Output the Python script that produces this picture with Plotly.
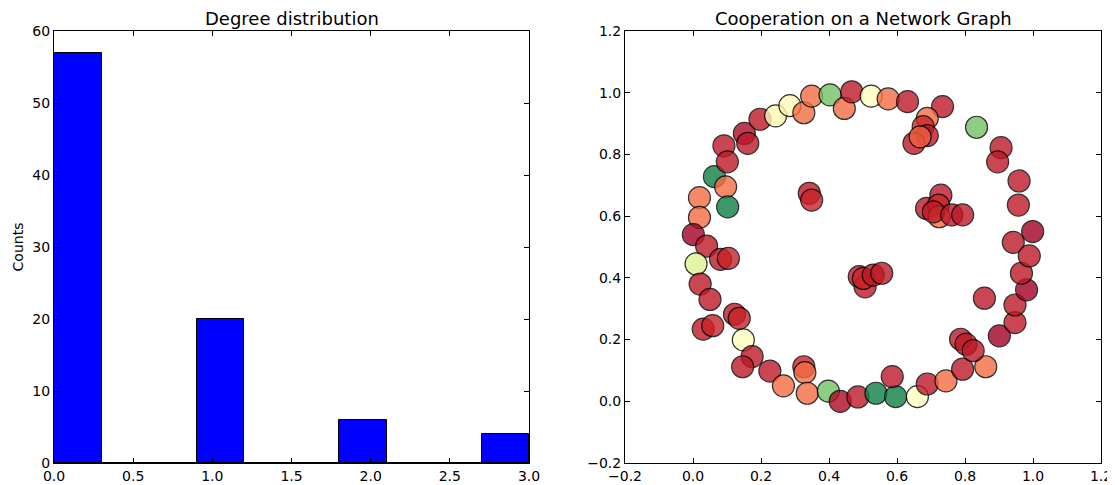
import plotly.graph_objects as go

# ---- Left: degree distribution histogram ----
bin_edges = [0.0, 0.3, 0.6, 0.9, 1.2, 1.5, 1.8, 2.1, 2.4, 2.7, 3.0]
bin_counts = [57, 0, 0, 20, 0, 0, 6, 0, 0, 4]

# ---- Right: network node positions and cooperation level (0 = defect, 1 = cooperate) ----
node_x = [0.019, 0.019, 0.063, 0.096, 0.102, 0.091, 0.101, 0.151, 0.161, 0.197,
          0.243, 0.285, 0.326, 0.349, 0.403, 0.445, 0.467, 0.342, 0.349, 0.001,
          0.524, 0.574, 0.631, 0.734, 0.689, 0.677, 0.689, 0.650, 0.668, 0.834,
          0.906, 0.896, 0.959, 0.957, 0.999, 0.942, 0.729, 0.687, 0.722, 0.724,
          0.707, 0.761, 0.793, 0.040, 0.009, 0.021, 0.050, 0.030, 0.058, 0.081,
          0.104, 0.122, 0.136, 0.148, 0.174, 0.146, 0.226, 0.266, 0.326, 0.329,
          0.336, 0.398, 0.433, 0.485, 0.489, 0.506, 0.501, 0.530, 0.555, 0.538,
          0.596, 0.586, 0.660, 0.689, 0.744, 0.793, 0.861, 0.787, 0.803, 0.824,
          0.857, 0.901, 0.947, 0.947, 0.981, 0.966, 0.989]
node_y = [0.660, 0.596, 0.728, 0.695, 0.630, 0.828, 0.776, 0.868, 0.836, 0.914,
          0.925, 0.958, 0.935, 0.989, 0.993, 0.949, 1.003, 0.674, 0.652, 0.540,
          0.989, 0.980, 0.971, 0.955, 0.917, 0.890, 0.861, 0.836, 0.857, 0.888,
          0.822, 0.776, 0.714, 0.636, 0.550, 0.515, 0.668, 0.625, 0.636, 0.598,
          0.614, 0.604, 0.604, 0.503, 0.445, 0.380, 0.330, 0.234, 0.245, 0.460,
          0.463, 0.282, 0.269, 0.199, 0.145, 0.112, 0.098, 0.050, 0.112, 0.093,
          0.026, 0.033, 0.000, 0.014, 0.404, 0.371, 0.398, 0.409, 0.415, 0.026,
          0.015, 0.080, 0.015, 0.056, 0.066, 0.104, 0.112, 0.201, 0.185, 0.164,
          0.334, 0.212, 0.255, 0.312, 0.361, 0.415, 0.471]
node_coop = [0.20, 0.20, 0.95, 0.20, 0.95, 0.05, 0.05, 0.02, 0.05, 0.05,
             0.48, 0.48, 0.20, 0.20, 0.78, 0.20, 0.05, 0.05, 0.07, 0.00,
             0.50, 0.20, 0.05, 0.05, 0.20, 0.08, 0.05, 0.05, 0.18, 0.78,
             0.05, 0.05, 0.05, 0.05, 0.00, 0.05, 0.05, 0.05, 0.08, 0.20,
             0.05, 0.05, 0.05, 0.05, 0.58, 0.05, 0.05, 0.05, 0.07, 0.05,
             0.07, 0.05, 0.07, 0.50, 0.05, 0.05, 0.05, 0.20, 0.07, 0.20,
             0.20, 0.78, 0.02, 0.05, 0.05, 0.05, 0.08, 0.05, 0.05, 0.95,
             0.95, 0.05, 0.50, 0.05, 0.20, 0.05, 0.20, 0.05, 0.05, 0.05,
             0.05, 0.00, 0.05, 0.05, 0.00, 0.05, 0.05]

left_xticks = [0.0, 0.5, 1.0, 1.5, 2.0, 2.5, 3.0]
left_yticks = [0, 10, 20, 30, 40, 50, 60]
right_ticks = [-0.2, 0.0, 0.2, 0.4, 0.6, 0.8, 1.0, 1.2]

rdylgn = [[0.0, 'rgb(165,0,38)'], [0.1, 'rgb(215,48,39)'], [0.2, 'rgb(244,109,67)'],
          [0.3, 'rgb(253,174,97)'], [0.4, 'rgb(254,224,139)'], [0.5, 'rgb(255,255,191)'],
          [0.6, 'rgb(217,239,139)'], [0.7, 'rgb(166,217,106)'], [0.8, 'rgb(102,189,99)'],
          [0.9, 'rgb(26,152,80)'], [1.0, 'rgb(0,104,55)']]

centers = [(bin_edges[i] + bin_edges[i + 1]) / 2 for i in range(len(bin_counts))]
widths = [bin_edges[i + 1] - bin_edges[i] for i in range(len(bin_counts))]

FONT = "DejaVu Sans"
fig = go.Figure()

fig.add_trace(go.Bar(
    x=centers, y=bin_counts, width=widths,
    marker=dict(color='#0000ff', line=dict(color='black', width=1)),
    xaxis='x', yaxis='y', showlegend=False,
))

fig.add_trace(go.Scatter(
    x=node_x, y=node_y, mode='markers',
    marker=dict(size=22, color=node_coop, colorscale=rdylgn, cmin=0, cmax=1,
                opacity=0.8, line=dict(color='black', width=1.2)),
    xaxis='x2', yaxis='y2', showlegend=False,
))

OFF = 8  # page body margin
W, H = 1115 - OFF, 485 - OFF


def px(p):
    return (p - OFF) / W


axis_common = dict(showgrid=False, zeroline=False, showline=True, linecolor='black',
                   linewidth=1, mirror='ticks', ticks='inside', ticklen=5,
                   tickcolor='black', tickfont=dict(family=FONT, size=14, color='black'),
                   automargin=False)

fig.update_layout(
    width=W, height=H,
    margin=dict(l=0, r=0, t=31 - OFF, b=H - (463 - OFF)),
    plot_bgcolor='white', paper_bgcolor='white',
    font=dict(family=FONT, color='black'),
    bargap=0,
    xaxis=dict(domain=[px(54), px(529)], range=[0, 3], tickvals=left_xticks,
               tickformat='.1f', anchor='y', **axis_common),
    yaxis=dict(domain=[0, 1], range=[0, 60], tickvals=left_yticks, anchor='x',
               title=dict(text='Counts', font=dict(family=FONT, size=14), standoff=5),
               **axis_common),
    xaxis2=dict(domain=[px(625), px(1101)], range=[-0.2, 1.2], tickvals=right_ticks,
                tickformat='.1f', anchor='y2', **axis_common),
    yaxis2=dict(domain=[0, 1], range=[-0.2, 1.2], tickvals=right_ticks,
                tickformat='.1f', anchor='x2', **axis_common),
    annotations=[
        dict(text='Degree distribution', x=(px(54) + px(529)) / 2, y=1, xref='paper',
             yref='paper', xanchor='center', yanchor='bottom', yshift=0, showarrow=False,
             font=dict(family=FONT, size=18, color='black')),
        dict(text='Cooperation on a Network Graph', x=(px(625) + px(1101)) / 2, y=1,
             xref='paper', yref='paper', xanchor='center', yanchor='bottom', yshift=0,
             showarrow=False, font=dict(family=FONT, size=18, color='black')),
    ],
)

fig.write_html("out.html")
